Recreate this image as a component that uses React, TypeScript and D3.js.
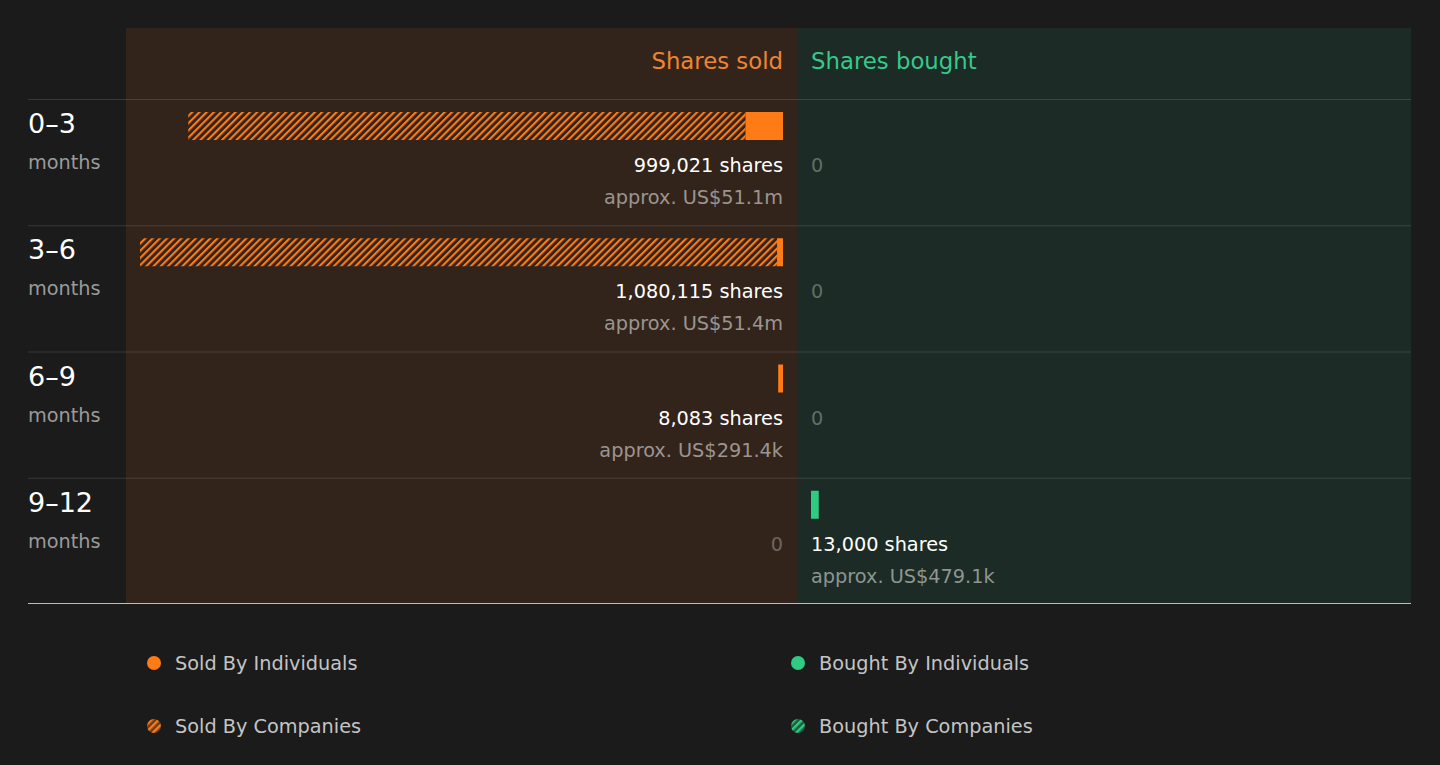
import * as d3 from "d3";

const periods = ["0–3", "3–6", "6–9", "9–12"];
const soldIndividuals = [63000, 10000, 8083, 0];
const soldCompanies = [936021, 1070115, 0, 0];
const boughtIndividuals = [0, 0, 0, 13000];
const boughtCompanies = [0, 0, 0, 0];
const soldValues = ["approx. US$51.1m", "approx. US$51.4m", "approx. US$291.4k", ""];
const boughtValues = ["", "", "", "approx. US$479.1k"];
const legendItems = [
  ["Sold By Individuals", "Bought By Individuals"],
  ["Sold By Companies", "Bought By Companies"],
];

const W = 1440;
const H = 765;
const ORANGE = "#ff7b15";
const GREEN = "#2fcb80";
const FONT = "'DejaVu Sans', sans-serif";
const FS = 19.3;

export default function App() {
  const left = 28;
  const labelW = 98;
  const soldX0 = left + labelW;
  const soldX1 = 797;
  const boughtX1 = 1411;
  const top = 28;
  const headerH = 71;
  const pad = 14;

  const rows = d3.scaleBand().domain(periods).range([top + headerH, 604]);
  const totals = periods.map((_, i) =>
    Math.max(soldIndividuals[i] + soldCompanies[i], boughtIndividuals[i] + boughtCompanies[i])
  );
  const x = d3
    .scaleLinear()
    .domain([0, d3.max(totals) as number])
    .range([0, soldX1 - pad - (soldX0 + pad)]);

  const soldEdge = soldX1 - pad;
  const boughtEdge = soldX1 + pad;
  const fmt = d3.format(",");
  const barH = 28;

  return (
    <div style={{ position: "absolute", left: 0, top: 0 }}>
      <svg width={W} height={H} style={{ display: "block", fontFamily: FONT }}>
        <defs>
          <pattern id="hatchO" patternUnits="userSpaceOnUse" width={5.1} height={5.1} patternTransform="rotate(45)">
            <rect width={2.1} height={5.1} fill={ORANGE} />
          </pattern>
          <pattern id="hatchG" patternUnits="userSpaceOnUse" width={5.1} height={5.1} patternTransform="rotate(45)">
            <rect width={2.1} height={5.1} fill={GREEN} />
          </pattern>
          <pattern id="legO" patternUnits="userSpaceOnUse" width={5} height={5} patternTransform="rotate(45)">
            <rect width={5} height={5} fill="#6a3d1a" />
            <rect width={2.4} height={5} fill={ORANGE} />
          </pattern>
          <pattern id="legG" patternUnits="userSpaceOnUse" width={5} height={5} patternTransform="rotate(45)">
            <rect width={5} height={5} fill="#1f5a3e" />
            <rect width={2.4} height={5} fill={GREEN} />
          </pattern>
        </defs>
        <rect width={W} height={H} fill="#1b1b1b" />
        <rect x={soldX0} y={top} width={soldX1 - soldX0} height={604 - top} fill="#33241b" />
        <rect x={soldX1} y={top} width={boughtX1 - soldX1} height={604 - top} fill="#1c2b25" />

        <text x={soldEdge} y={69} textAnchor="end" fill="#f08430" fontSize={22.8}>
          Shares sold
        </text>
        <text x={boughtEdge} y={69} fill="#35c98a" fontSize={22.8}>
          Shares bought
        </text>

        {periods.map((p, i) => {
          const y0 = rows(p) as number;
          const sTotal = soldIndividuals[i] + soldCompanies[i];
          const bTotal = boughtIndividuals[i] + boughtCompanies[i];
          const barY = y0 + 13;
          return (
            <g key={p}>
              <line x1={left} x2={boughtX1} y1={y0 + 0.5} y2={y0 + 0.5} stroke="rgba(255,255,255,0.13)" />
              <text x={left} y={y0 + 34} fill="#ffffff" fontSize={27}>
                {p}
              </text>
              <text x={left} y={y0 + 70} fill="#9a9a9a" fontSize={FS}>
                months
              </text>

              {sTotal > 0 ? (
                <>
                  <rect x={soldEdge - x(soldIndividuals[i])} y={barY} width={x(soldIndividuals[i])} height={barH} fill={ORANGE} />
                  <rect
                    x={soldEdge - x(sTotal)}
                    y={barY}
                    width={x(soldCompanies[i])}
                    height={barH}
                    fill="url(#hatchO)"
                  />
                  <text x={soldEdge} y={y0 + 73} textAnchor="end" fill="#ffffff" fontSize={FS}>
                    {fmt(sTotal)} shares
                  </text>
                  <text x={soldEdge} y={y0 + 105} textAnchor="end" fill="#9b9591" fontSize={FS}>
                    {soldValues[i]}
                  </text>
                </>
              ) : (
                <text x={soldEdge} y={y0 + 73} textAnchor="end" fill="#6f6660" fontSize={FS}>
                  0
                </text>
              )}

              {bTotal > 0 ? (
                <>
                  <rect x={boughtEdge} y={barY} width={x(boughtIndividuals[i])} height={barH} fill={GREEN} />
                  <rect
                    x={boughtEdge + x(boughtIndividuals[i])}
                    y={barY}
                    width={x(boughtCompanies[i])}
                    height={barH}
                    fill="url(#hatchG)"
                  />
                  <text x={boughtEdge} y={y0 + 73} fill="#ffffff" fontSize={FS}>
                    {fmt(bTotal)} shares
                  </text>
                  <text x={boughtEdge} y={y0 + 105} fill="#8d9690" fontSize={FS}>
                    {boughtValues[i]}
                  </text>
                </>
              ) : (
                <text x={boughtEdge} y={y0 + 73} fill="#5f6f67" fontSize={FS}>
                  0
                </text>
              )}
            </g>
          );
        })}
        <line x1={left} x2={boughtX1} y1={603.5} y2={603.5} stroke="#bdbdbd" strokeWidth={1.2} />

        {legendItems.map((row, r) =>
          row.map((label, c) => {
            const cx = c === 0 ? 154 : 798;
            const cy = 663 + r * 63;
            const fill =
              r === 0 ? (c === 0 ? ORANGE : GREEN) : c === 0 ? "url(#legO)" : "url(#legG)";
            return (
              <g key={label}>
                <circle cx={cx} cy={cy} r={7} fill={fill} />
                <text x={cx + 21} y={cy + 7} fill="#c4c4c4" fontSize={FS}>
                  {label}
                </text>
              </g>
            );
          })
        )}
      </svg>
    </div>
  );
}
